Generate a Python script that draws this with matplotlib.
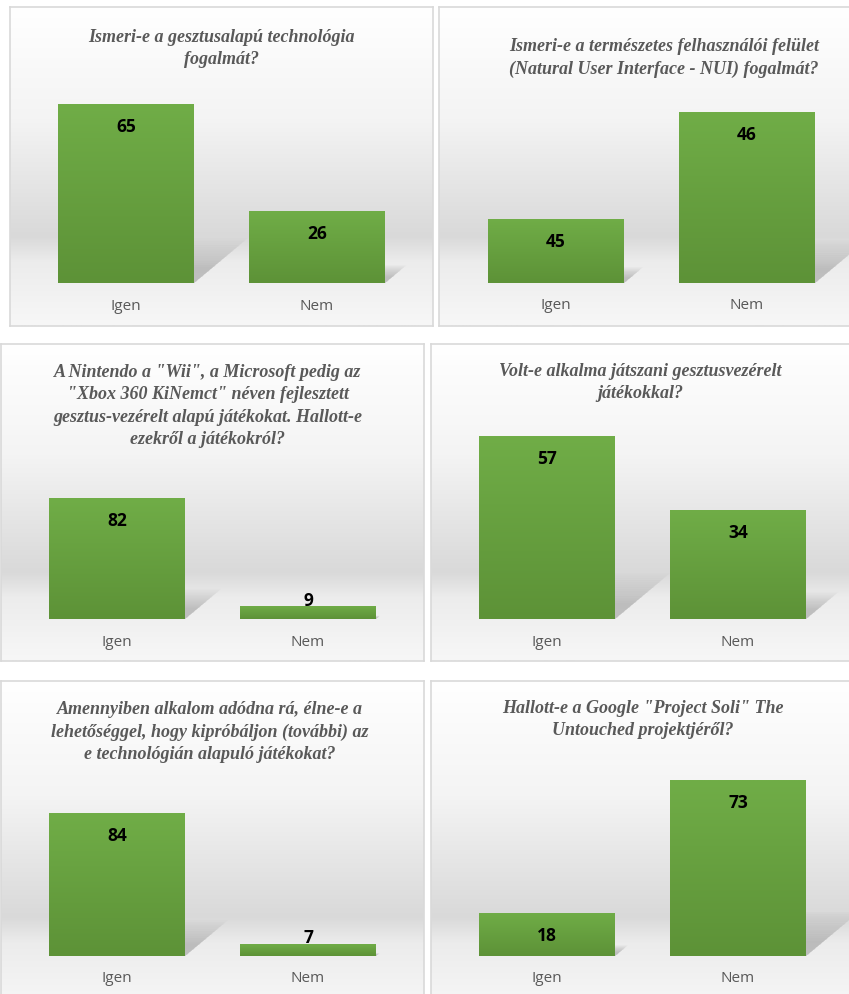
import numpy as np
import matplotlib
matplotlib.use("Agg")
import matplotlib.pyplot as plt
from matplotlib.patches import Polygon
from matplotlib.colors import LinearSegmentedColormap

# --- data -------------------------------------------------------------------
categories = ["Igen", "Nem"]

titles = [
    "Ismeri-e a gesztusalapú technológia\nfogalmát?",
    "Ismeri-e a természetes felhasználói felület\n(Natural User Interface - NUI) fogalmát?",
    "A Nintendo a \"Wii\", a Microsoft pedig az\n\"Xbox 360 KiNemct\" néven fejlesztett\n"
    "gesztus-vezérelt alapú játékokat. Hallott-e\nezekről a játékokról?",
    "Volt-e alkalma játszani gesztusvezérelt\njátékokkal?",
    "Amennyiben alkalom adódna rá, élne-e a\nlehetőséggel, hogy kipróbáljon (további) az\n"
    "e technológián alapuló játékokat?",
    "Hallott-e a Google \"Project Soli\" The\nUntouched projektjéről?",
]

q1_values = [65, 26]
q2_values = [45, 46]
q3_values = [82, 9]
q4_values = [57, 34]
q5_values = [84, 7]
q6_values = [18, 73]
all_values = [q1_values, q2_values, q3_values, q4_values, q5_values, q6_values]

# value axis minimum (Excel auto-scaled the second chart)
axis_min = [0, 44.4, 0, 0, 0, 0]

# --- layout (pixels, y from top) -------------------------------------------
W, H = 849, 995
# panel border box: x0, y0, x1, y1
boxes = [(10, 8, 433, 327), (439, 8, 900, 327),
         (1, 345, 424, 662), (431, 345, 900, 662),
         (1, 682, 424, 1010), (431, 682, 900, 1010)]
# plot area: x0, x1, baseline y, y of tallest bar top
plots = [(30.5, 412.5, 284, 105), (460.5, 842.5, 284, 113),
         (21.5, 403.5, 620, 499), (451.5, 833.5, 620, 437),
         (21.5, 403.5, 957, 814), (451.5, 833.5, 957, 781)]
# title anchor: center x, top y
title_pos = [(221, 29), (664, 38), (208, 364), (640, 363), (210, 701), (643, 700)]

BAR_W = 0.712
GRAY_TXT = "#595959"
BORDER = "#d9d9d9"

fig = plt.figure(figsize=(W / 100, H / 100), dpi=100)
fig.patch.set_facecolor("white")

bg_cmap = LinearSegmentedColormap.from_list(
    "bg", [(0.0, "#ffffff"), (0.35, "#f4f4f4"), (0.72, "#d9d9d9"),
           (0.80, "#ececec"), (1.0, "#f7f7f7")])
bar_cmap = LinearSegmentedColormap.from_list("bar", ["#5d9237", "#70ad47"])


def fx(x):
    return x / W


def fy(y):
    return 1 - y / H


for i in range(6):
    bx0, by0, bx1, by1 = boxes[i]
    # background panel with vertical gradient
    bgax = fig.add_axes([fx(bx0), fy(by1), fx(bx1 - bx0), (by1 - by0) / H])
    bgax.imshow(np.linspace(0, 1, 256).reshape(-1, 1), aspect="auto",
                cmap=bg_cmap, extent=[0, 1, 0, 1], origin="upper")
    bgax.set_xlim(0, 1)
    bgax.set_ylim(0, 1)
    bgax.set_xticks([])
    bgax.set_yticks([])
    for s in bgax.spines.values():
        s.set_color(BORDER)
        s.set_linewidth(1.2)

    px0, px1, base, top = plots[i]
    ax = fig.add_axes([fx(px0), fy(base), fx(px1 - px0), (base - top) / H])
    ax.patch.set_alpha(0)
    vals = all_values[i]
    ymin = axis_min[i]
    ax.set_xlim(-0.5, 1.5)
    ax.set_ylim(ymin, max(vals))
    ax.axis("off")

    px_per_x = (px1 - px0) / 2.0
    px_per_y = (base - top) / (max(vals) - ymin)

    bars = ax.bar(range(len(vals)), [v - ymin for v in vals], bottom=ymin,
                  width=BAR_W, color="#6aa841", zorder=3)

    for j, (b, v) in enumerate(zip(bars, vals)):
        h_px = (v - ymin) * px_per_y
        xl, xr = j - BAR_W / 2, j + BAR_W / 2
        # soft perspective shadow cast behind the bar
        dx = 0.30 * h_px / px_per_x
        dy = 0.25 * h_px / px_per_y
        for k in np.linspace(1.0, 0.35, 14):
            poly = Polygon([(xl, ymin), (xr, ymin),
                            (xr + dx * k, ymin + dy * k),
                            (xl + dx * k, ymin + dy * k)],
                           closed=True, facecolor="#777777", edgecolor="none",
                           alpha=0.03, zorder=2, clip_on=False)
            ax.add_patch(poly)
        # gradient fill on the bar
        im = ax.imshow(np.linspace(0, 1, 128).reshape(-1, 1), aspect="auto",
                       cmap=bar_cmap, origin="lower",
                       extent=[xl, xr, ymin, v], zorder=4)
        im.set_clip_path(b)

        # value label: inside end, or just above baseline for tiny bars
        off = -22 if h_px - 22 >= 19 else 19 - h_px
        ax.annotate(str(v), (j, v), xytext=(0, off * 0.72),
                    textcoords="offset points", ha="center", va="center",
                    fontsize=12.5, fontweight="bold", color="black",
                    family="Open Sans", zorder=6, annotation_clip=False)
        ax.annotate(categories[j], (j, ymin), xytext=(0, -22 * 0.72),
                    textcoords="offset points", ha="center", va="center",
                    fontsize=11, color=GRAY_TXT, family="Open Sans",
                    annotation_clip=False)

    tx, ty = title_pos[i]
    fig.text(fx(tx), fy(ty), titles[i], ha="center", va="top",
             fontsize=13, fontstyle="italic", fontweight="bold",
             family="Liberation Serif", color=GRAY_TXT, linespacing=1.42)

fig.savefig("out.png", dpi=100)
